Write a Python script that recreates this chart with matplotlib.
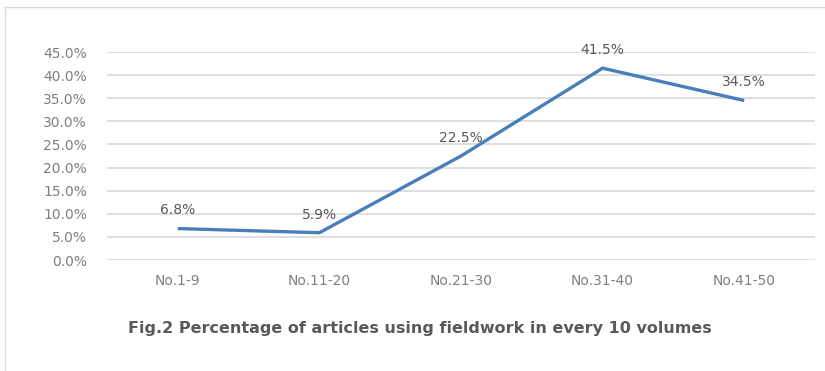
import numpy as np
import matplotlib
matplotlib.use('Agg')
import matplotlib.pyplot as plt
from matplotlib.lines import Line2D

categories = ['No.1-9', 'No.11-20', 'No.21-30', 'No.31-40', 'No.41-50']
values = [6.8, 5.9, 22.5, 41.5, 34.5]
yticks = [0, 5, 10, 15, 20, 25, 30, 35, 40, 45]
title = 'Fig.2 Percentage of articles using fieldwork in every 10 volumes'

plt.rcParams['font.family'] = ['DejaVu Sans']

fig = plt.figure(figsize=(8.25, 3.71), dpi=100)
ax = fig.add_axes([107/825, 1 - 260/371, 708/825, 208/371])

x = np.arange(len(categories))
ax.plot(x, values, color='#4a7ebb', linewidth=2.4, solid_capstyle='butt',
        solid_joinstyle='miter', zorder=3)

for xi, v in zip(x, values):
    ax.annotate('%.1f%%' % v, (xi, v), xytext=(0, 8), textcoords='offset points',
                ha='center', va='bottom', fontsize=10, color='#595959')

ax.set_xlim(-0.5, len(categories) - 0.5)
ax.set_ylim(0, 45)
ax.set_yticks(yticks)
ax.set_yticklabels(['%.1f%%' % t for t in yticks])
ax.set_xticks(x)
ax.set_xticklabels(categories)
ax.tick_params(axis='both', length=0, labelsize=10, colors='#7f7f7f')
ax.tick_params(axis='y', pad=14.5)
ax.tick_params(axis='x', pad=10)
ax.grid(axis='y', color='#d9d9d9', linewidth=1.2)
ax.set_axisbelow(True)
for s in ax.spines.values():
    s.set_visible(False)

fig.text(420/825, 1 - 328/371, title, ha='center', va='center',
         fontsize=11.5, fontweight='bold', color='#595959')

# chart frame (top and left edges visible in the crop)
fig.add_artist(Line2D([5/825, 5/825], [0, 1 - 7/371], transform=fig.transFigure,
                      color='#d9d9d9', linewidth=1.0))
fig.add_artist(Line2D([5/825, 1], [1 - 7/371, 1 - 7/371], transform=fig.transFigure,
                      color='#d9d9d9', linewidth=1.0))

fig.savefig('out.png', dpi=100)
